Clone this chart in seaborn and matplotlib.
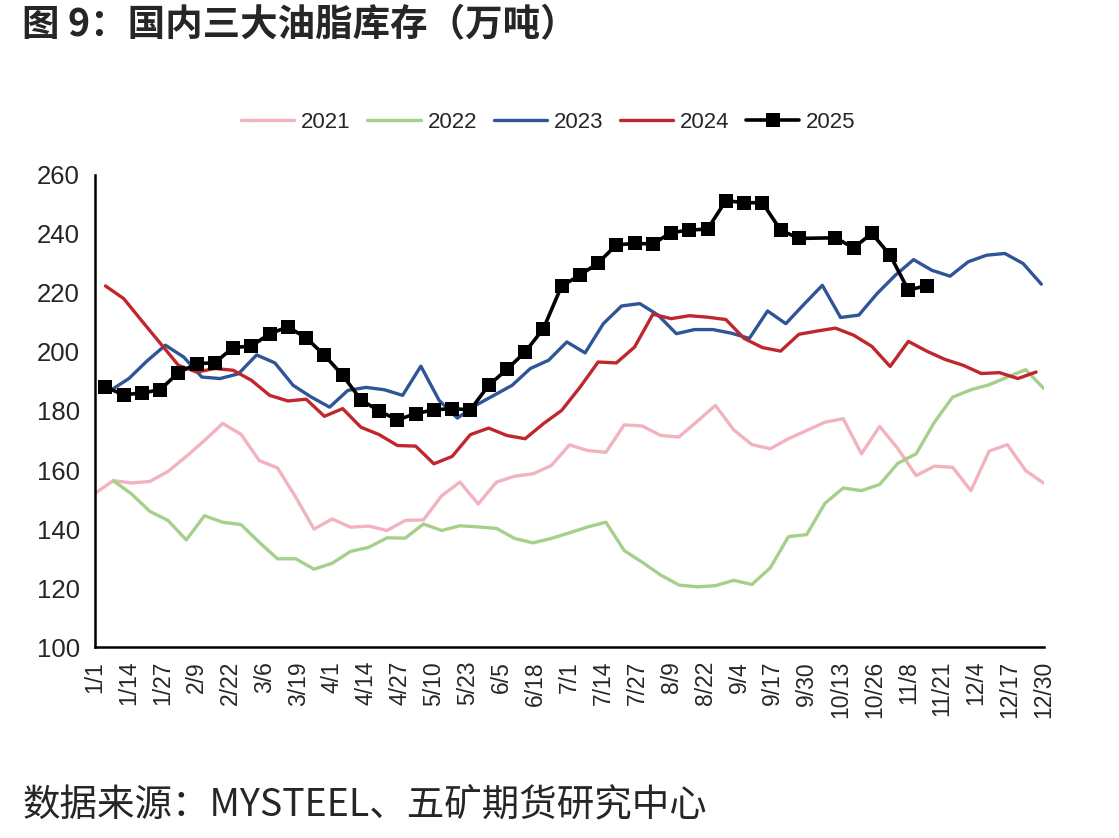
import numpy as np
import pandas as pd
import matplotlib
matplotlib.use("Agg")
import matplotlib.pyplot as plt
import seaborn as sns

# weekly inventory, 万吨 (dates mapped onto one leap year for the seasonal axis)
v2021 = [152.1, 156.4, 155.6, 156.1, 159.5, 164.6, 170.0, 175.8, 172.1, 163.2,
         160.7, 150.8, 140.0, 143.4, 140.6, 141.0, 139.5, 142.9, 143.1, 151.3,
         155.9, 148.5, 155.9, 157.9, 158.7, 161.5, 168.5, 166.6, 166.0, 175.3,
         174.9, 171.7, 171.2, 176.5, 181.9, 173.6, 168.6, 167.2, 170.6, 173.4,
         176.2, 177.4, 165.5, 174.8, 167.2, 158.1, 161.3, 160.9, 153.0, 166.4,
         168.6, 159.8, 155.5]
v2022 = [156.4, 151.9, 146.0, 142.9, 136.3, 144.5, 142.3, 141.5, 135.5, 129.9,
         129.9, 126.4, 128.4, 132.4, 133.8, 137.0, 136.9, 141.7, 139.5, 141.1,
         140.7, 140.2, 136.8, 135.3, 136.8, 138.7, 140.7, 142.3, 132.7, 128.7,
         124.4, 121.0, 120.4, 120.8, 122.6, 121.2, 126.8, 137.4, 138.1, 148.7,
         153.9, 153.0, 155.1, 162.3, 165.5, 176.2, 184.7, 187.2, 188.9, 191.5,
         194.0, 187.6]
v2023 = [187.0, 191.0, 197.0, 202.3, 198.3, 191.5, 191.0, 192.6, 199.0, 196.3,
         188.7, 184.7, 181.3, 187.0, 188.0, 187.2, 185.3, 195.2, 183.6, 177.6,
         181.9, 185.3, 188.7, 194.4, 197.2, 203.4, 199.7, 209.6, 215.6, 216.4,
         212.5, 206.2, 207.6, 207.6, 206.4, 204.6, 213.9, 209.6, 216.2, 222.6,
         211.7, 212.5, 219.8, 226.0, 231.3, 227.7, 225.7, 230.6, 232.8, 233.4,
         230.0, 223.0]
v2024 = [222.4, 218.1, 210.5, 203.0, 195.5, 193.2, 194.4, 193.8, 190.4, 185.3,
         183.4, 184.0, 178.2, 180.8, 174.5, 172.0, 168.3, 168.1, 162.1, 164.6,
         172.0, 174.2, 171.7, 170.6, 175.7, 180.2, 188.0, 196.6, 196.3, 201.7,
         212.8, 211.3, 212.3, 211.8, 211.0, 204.6, 201.5, 200.3, 206.0, 207.1,
         208.1, 205.7, 201.9, 195.1, 203.6, 200.3, 197.5, 195.5, 192.7, 193.0,
         191.0, 193.2]
v2025 = [188.1, 185.5, 186.1, 187.2, 193.0, 196.0, 196.4, 201.5, 202.0, 206.2,
         208.5, 204.8, 198.9, 192.1, 183.8, 180.0, 177.0, 179.1, 180.4, 180.8,
         180.4, 188.7, 194.1, 200.0, 207.9, 222.4, 226.0, 230.2, 236.3, 236.8,
         236.6, 240.5, 241.3, 241.7, 251.3, 250.6, 250.6, 241.3, 238.5, np.nan,
         238.7, 235.3, 240.2, 232.8, 221.0, 222.5]

years = ["2021", "2022", "2023", "2024", "2025"]
values = [v2021, v2022, v2023, v2024, v2025]
starts = ["2024-01-01", "2024-01-08", "2024-01-07", "2024-01-05", "2024-01-05"]
colors = ["#F2B3BE", "#A6CF8A", "#2F5597", "#C0272D", "#000000"]

frames = []
for yr, vals, st in zip(years, values, starts):
    d = pd.DataFrame({"date": pd.date_range(st, periods=len(vals), freq="7D"),
                      "value": vals, "year": yr})
    frames.append(d.dropna())
df = pd.concat(frames, ignore_index=True)

sns.set_theme(style="white")
plt.rcParams["font.family"] = ["Liberation Sans", "DejaVu Sans"]

fig = plt.figure(figsize=(11.19, 8.38), dpi=100)
ax = fig.add_axes([0.0849, 0.2279, 0.848, 0.5633])

for yr, col in zip(years, colors):
    sub = df[df["year"] == yr]
    if yr == "2025":
        sns.lineplot(data=sub, x="date", y="value", ax=ax, color=col, lw=2.6,
                     marker="s", markersize=10, markeredgewidth=0, label=yr)
    else:
        sns.lineplot(data=sub, x="date", y="value", ax=ax, color=col, lw=2.4,
                     label=yr)

ax.set_ylim(100, 260)
ax.set_yticks(range(100, 261, 20))
ax.set_xlim(pd.Timestamp("2024-01-01"), pd.Timestamp("2024-12-30"))
xt = pd.date_range("2024-01-01", "2024-12-30", freq="13D")
ax.set_xticks(xt)
ax.set_xticklabels([f"{d.month}/{d.day}" for d in xt], rotation=90, fontsize=16.5)
ax.set_xlabel("")
ax.set_ylabel("")

for s in ["top", "right"]:
    ax.spines[s].set_visible(False)
for s in ["left", "bottom"]:
    ax.spines[s].set_color("black")
    ax.spines[s].set_linewidth(1.8)
ax.tick_params(axis="both", direction="out", length=5, width=1.8, color="black")
ax.tick_params(axis="y", labelsize=18.5, pad=6)
ax.tick_params(axis="x", pad=5)
ax.grid(False)

ax.legend(loc="center", bbox_to_anchor=(0.49, 0.854), bbox_transform=fig.transFigure,
          ncol=5, frameon=False, fontsize=16, handlelength=2.4, handletextpad=0.3,
          columnspacing=0.75)

fig.text(0.02, 0.970, "图 9：国内三大油脂库存（万吨）", fontsize=27, fontweight="bold",
         family=["Noto Sans CJK SC", "DejaVu Sans"], va="center", ha="left")
fig.text(0.02, 0.039, "数据来源：MYSTEEL、五矿期货研究中心", fontsize=27,
         family=["Noto Sans CJK SC", "DejaVu Sans"], va="center", ha="left")

fig.savefig("out.png", dpi=100)
